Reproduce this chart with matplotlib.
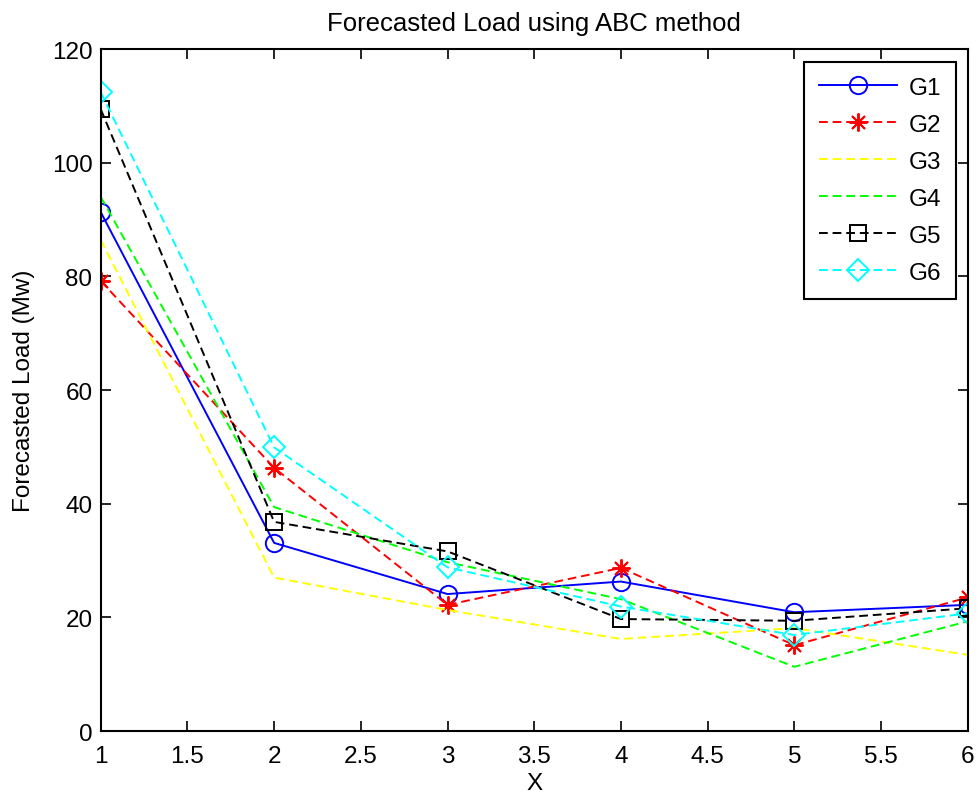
"""
Forecasted load curves for six generators, ABC method
"""
import matplotlib
matplotlib.use('Agg')
import matplotlib.pyplot as plt

plt.rcParams['font.family'] = ['Liberation Sans', 'DejaVu Sans']

x = [1, 2, 3, 4, 5, 6]
g1 = [91.3, 33.1, 24.1, 26.3, 20.9, 22.2]
g2 = [79.2, 46.3, 22.2, 28.7, 15.1, 23.5]
g3 = [86.4, 27.0, 21.3, 16.2, 18.1, 13.4]
g4 = [94.0, 39.4, 29.7, 23.2, 11.3, 19.3]
g5 = [109.4, 36.8, 31.6, 19.7, 19.4, 21.6]
g6 = [112.4, 49.9, 28.8, 21.9, 16.9, 20.7]
labels = ['G1', 'G2', 'G3', 'G4', 'G5', 'G6']

fs = 17.5
fig = plt.figure(figsize=(9.79, 8.03), dpi=100)
ax = fig.add_axes([0.1029, 0.0884, 0.8856, 0.8493])

dash = (0, (4.5, 2.5))
ax.plot(x, g1, color='#0000ff', ls='-', lw=1.4, marker='o', ms=12.5, mfc='none', mew=1.4, label=labels[0])
ax.plot(x, g2, color='#ff0000', ls=dash, lw=1.4, marker=(8, 2, 0), ms=13, mew=1.4, label=labels[1])
ax.plot(x, g3, color='#ffff00', ls=dash, lw=1.4, label=labels[2])
ax.plot(x, g4, color='#00ff00', ls=dash, lw=1.4, label=labels[3])
ax.plot(x, g5, color='#000000', ls=dash, lw=1.4, marker='s', ms=12, mfc='none', mew=1.4, label=labels[4])
ax.plot(x, g6, color='#00ffff', ls=dash, lw=1.4, marker='D', ms=11.5, mfc='none', mew=1.4, label=labels[5])

ax.set_xlim(1, 6)
ax.set_ylim(0, 120)
ax.set_xticks([1, 1.5, 2, 2.5, 3, 3.5, 4, 4.5, 5, 5.5, 6])
ax.set_xticklabels(['1', '1.5', '2', '2.5', '3', '3.5', '4', '4.5', '5', '5.5', '6'])
ax.set_yticks([0, 20, 40, 60, 80, 100, 120])
ax.tick_params(direction='in', top=True, right=True, length=7, width=1.2,
               labelsize=fs)
ax.tick_params(axis='x', pad=10)
ax.tick_params(axis='y', pad=6)
for s in ax.spines.values():
    s.set_linewidth(1.5)

ax.set_title('Forecasted Load using ABC method', fontsize=18.5, pad=14)
ax.set_xlabel('X', fontsize=fs, labelpad=4)
ax.set_ylabel('Forecasted Load (Mw)', fontsize=fs, labelpad=12)

leg = ax.legend(loc='upper right', bbox_to_anchor=(0.9865, 0.981), borderaxespad=0,
                fontsize=fs, handlelength=3.2, handletextpad=0.5, labelspacing=0.62,
                fancybox=False, framealpha=1, edgecolor='black', borderpad=0.6)
leg.get_frame().set_linewidth(1.5)

fig.savefig('out.png', dpi=100)
